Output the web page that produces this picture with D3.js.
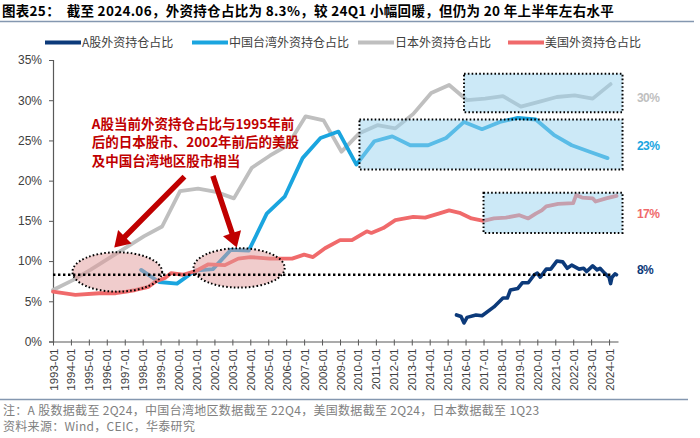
<!DOCTYPE html>
<html><head><meta charset="utf-8">
<script src="https://cdn.jsdelivr.net/npm/d3@7"></script>
<style>body{margin:0;background:#fff} svg{display:block} text{white-space:pre}</style>
</head><body><svg id="c" width="700" height="438"></svg>
<script>
// ---------- data ----------
const seriesNames = ["A股外资持仓占比","中国台湾外资持仓占比","日本外资持仓占比","美国外资持仓占比"];
const tickYears = d3.range(1993, 2025);
const yTicks = [0,5,10,15,20,25,30,35];

const cnDates = ["2015-07","2015-10","2015-12","2016-02","2016-08","2016-12","2017-08","2018-02","2018-05","2018-07","2018-12","2019-03","2019-07","2019-11","2020-01","2020-03","2020-07","2020-10","2021-02","2021-06","2021-09","2021-12","2022-05","2022-08","2022-10","2023-02","2023-05","2023-07","2023-10","2024-01","2024-02","2024-03","2024-05","2024-06"];
const cnValues = [3.3,3.1,2.3,3.0,3.3,3.2,4.3,5.4,5.4,6.4,6.6,7.3,7.3,8.3,8.5,8.0,9.0,9.0,10.0,9.9,9.1,9.5,9.0,9.1,8.7,9.4,8.9,9.1,8.5,8.0,7.2,8.0,8.4,8.3];

const twDates = ["1997-12","1998-12","1999-12","2000-12","2001-12","2002-12","2003-12","2004-12","2005-12","2006-12","2007-12","2008-12","2009-12","2010-12","2011-12","2012-12","2013-12","2014-12","2015-12","2016-12","2017-12","2018-12","2019-12","2020-12","2021-12","2022-12","2023-12"];
const twValues = [8.9,7.4,7.2,8.8,9.0,11.4,11.3,15.9,18.0,22.8,25.3,26.1,22.0,24.9,25.5,24.4,24.4,25.3,27.3,26.4,27.3,27.8,27.6,25.7,24.4,23.6,22.8];

const jpDates = ["1993-01","1994-02","1995-02","1996-02","1997-02","1998-02","1999-02","2000-02","2001-02","2002-02","2003-02","2004-02","2005-02","2006-02","2007-02","2008-02","2009-02","2010-02","2011-02","2012-02","2013-02","2014-02","2015-02","2016-02","2017-02","2018-02","2019-02","2020-02","2021-02","2022-02","2023-02","2024-02"];
const jpValues = [6.4,7.6,8.9,10.3,11.7,13.1,14.3,18.7,19.0,18.6,17.8,21.6,23.1,24.4,28.0,27.5,23.6,25.9,26.9,26.5,28.3,30.9,31.9,30.0,30.2,30.5,29.2,29.8,30.4,30.6,30.2,32.0];

const usDates = ["1993-01","1994-04","1995-08","1996-07","1997-02","1997-08","1998-05","1998-10","1999-04","1999-08","2000-04","2001-01","2001-09","2002-08","2003-05","2004-01","2005-02","2006-05","2007-01","2007-07","2008-03","2009-01","2009-09","2010-07","2010-10","2011-06","2012-02","2013-02","2013-10","2014-07","2015-02","2015-09","2016-05","2017-01","2017-08","2018-04","2019-01","2019-07","2019-12","2020-04","2020-07","2021-03","2022-01","2022-03","2022-07","2023-02","2023-04","2023-11","2024-06"];
const usValues = [6.2,5.8,6.0,6.0,6.2,6.4,6.8,7.5,7.9,8.5,8.3,8.8,9.6,9.5,10.3,10.5,10.3,10.3,10.8,10.5,11.6,12.6,12.6,13.7,13.5,14.1,15.1,15.5,15.4,15.9,16.3,16.0,15.3,15.0,15.3,15.4,15.7,15.3,15.9,16.3,16.8,17.1,17.2,18.2,17.9,17.8,17.4,17.8,18.1];

const refLevel = 8.3;
const endLabels = ["8%","23%","30%","17%"];
const endLabelValues = [8.9,24.4,30.3,15.9];

const noteText = ["A股当前外资持仓占比与1995年前","后的日本股市、2002年前后的美股","及中国台湾地区股市相当"];

// ---------- setup ----------
const colors = ["#0C3A7A","#1AA5DF","#BFBFBF","#F06A6B"];
const parse = d3.timeParse("%Y-%m");
const svg = d3.select("#c");
const FONT = "'Liberation Sans','Noto Sans CJK SC',sans-serif";
const CJK = "'Noto Sans CJK SC','Liberation Sans',sans-serif";

const x = d3.scaleTime().domain([parse("1993-01"), parse("2024-07")]).range([53, 618]);
const y = d3.scaleLinear().domain([0, 35]).range([341.5, 60]);

// title
svg.append("text").attr("x",2).attr("y",16).attr("font-family",CJK).attr("font-weight","bold")
  .attr("font-size","13.5px").attr("letter-spacing","0.3px").attr("fill","#000")
  .text("图表25：  截至 2024.06，外资持仓占比为 8.3%，较 24Q1 小幅回暖，但仍为 20 年上半年左右水平");
svg.append("line").attr("x1",0).attr("x2",694).attr("y1",21.5).attr("y2",21.5).attr("stroke","#8497B0").attr("stroke-width",1.5);

// legend
const legX = [45,192,358,508];
seriesNames.forEach((n,i)=>{
  const g = svg.append("g").attr("transform",`translate(${legX[i]},42.5)`);
  g.append("line").attr("x1",0).attr("x2",36).attr("stroke",colors[i]).attr("stroke-width",4);
  g.append("text").attr("x",37).attr("y",4.5).attr("font-family",CJK).attr("font-size","12px")
    .attr("fill","#404040").text(n);
});

// axes
const ya = svg.append("g").attr("transform","translate(53,0)")
  .call(d3.axisLeft(y).tickValues(yTicks).tickSize(4).tickPadding(7).tickFormat(d=>d+"%"));
ya.select(".domain").attr("stroke","#595959").attr("stroke-width",1.2);
ya.selectAll(".tick line").attr("stroke","#595959");
ya.selectAll("text").attr("font-family",FONT).attr("font-size","12px").attr("fill","#404040");

const xa = svg.append("g").attr("transform","translate(0,341.5)")
  .call(d3.axisBottom(x).tickValues(tickYears.map(t=>new Date(t,0,1))).tickSize(4).tickSizeOuter(0)
  .tickFormat(d3.timeFormat("%Y-%m")));
xa.select(".domain").attr("stroke","#595959").attr("stroke-width",1.2);
xa.selectAll(".tick line").attr("stroke","#595959").attr("y1",-2);
xa.selectAll("text").attr("font-family",FONT).attr("font-size","11.5px").attr("fill","#404040")
  .attr("transform","rotate(-90)").attr("text-anchor","end").attr("x",-7).attr("y",0).attr("dy","0.35em");

// lines
const line = d3.line().x(d=>x(d[0])).y(d=>y(d[1])).curve(d3.curveLinear);
const sets = [
  [cnDates,cnValues],[twDates,twValues],[jpDates,jpValues],[usDates,usValues]
];
// draw order: Japan, Taiwan, US, A-share
[2,1,3,0].forEach(i=>{
  const [ds,vs]=sets[i];
  svg.append("path").datum(ds.map((d,k)=>[parse(d),vs[k]]))
    .attr("d",line).attr("fill","none").attr("stroke",colors[i])
    .attr("stroke-width",i===0?3.6:3.8).attr("stroke-linejoin","round").attr("stroke-linecap","round");
});

// highlight boxes
const boxes = [
  {x0:"2015-12",x1:"2024-10",y0:28.5,y1:33.3},
  {x0:"2010-02",x1:"2024-10",y0:21.4,y1:27.6},
  {x0:"2017-01",x1:"2024-10",y0:13.5,y1:18.5}
];
boxes.forEach(b=>{
  svg.append("rect").attr("x",x(parse(b.x0))).attr("y",y(b.y1))
    .attr("width",x(parse(b.x1))-x(parse(b.x0))).attr("height",y(b.y0)-y(b.y1))
    .attr("fill","#9AD4F0").attr("fill-opacity",0.5)
    .attr("stroke","#000").attr("stroke-width",2).attr("stroke-dasharray","1.6,2.2");
});

// ellipses
const ellipses = [
  {x0:"1994-02",x1:"1999-02",y0:6.2,y1:11.1},
  {x0:"2000-11",x1:"2005-12",y0:6.7,y1:11.6}
];
ellipses.forEach(e=>{
  const a=x(parse(e.x0)), b=x(parse(e.x1));
  svg.append("ellipse").attr("cx",(a+b)/2).attr("cy",(y(e.y0)+y(e.y1))/2)
    .attr("rx",(b-a)/2).attr("ry",(y(e.y0)-y(e.y1))/2)
    .attr("fill","#E29A9A").attr("fill-opacity",0.5)
    .attr("stroke","#000").attr("stroke-width",2).attr("stroke-dasharray","1.6,2.2");
});

// reference line
svg.append("line").attr("x1",x(parse("1993-01"))).attr("x2",x(parse("2024-03")))
  .attr("y1",y(refLevel)).attr("y2",y(refLevel))
  .attr("stroke","#000").attr("stroke-width",2.6).attr("stroke-dasharray","2.4,2.6");

// arrows
const arrows = [
  {from:["2000-05",20.5], to:["1996-06",11.7]},
  {from:["2001-12",20.6], to:["2003-04",11.7]}
];
arrows.forEach(a=>{
  const sx=x(parse(a.from[0])), sy=y(a.from[1]), tx=x(parse(a.to[0])), ty=y(a.to[1]);
  const len=Math.hypot(tx-sx,ty-sy), ux=(tx-sx)/len, uy=(ty-sy)/len, nx=-uy, ny=ux;
  const w=5.5, H=19, L=15, bx=tx-ux*L, by=ty-uy*L;
  const pts=[[sx+nx*w/2,sy+ny*w/2],[bx+nx*w/2,by+ny*w/2],[bx+nx*H/2,by+ny*H/2],[tx,ty],
             [bx-nx*H/2,by-ny*H/2],[bx-nx*w/2,by-ny*w/2],[sx-nx*w/2,sy-ny*w/2]];
  svg.append("polygon").attr("points",pts.map(p=>p.join(",")).join(" ")).attr("fill","#C00000");
});

// annotation text
noteText.forEach((t,i)=>{
  svg.append("text").attr("x",x(parse("1995-03"))).attr("y",129+i*18.3)
    .attr("font-family",CJK).attr("font-weight","bold").attr("font-size","13.5px")
    .attr("fill","#C00000").text(t);
});

// end labels
endLabels.forEach((t,i)=>{
  svg.append("text").attr("x",x(parse("2024-07"))+19).attr("y",y(endLabelValues[i])).attr("dy","0.36em")
    .attr("font-family",FONT).attr("font-weight","bold").attr("font-size","12px")
    .attr("letter-spacing","-0.6px").attr("fill",colors[i]).text(t);
});

// footer
svg.append("line").attr("x1",0).attr("x2",688).attr("y1",399.5).attr("y2",399.5).attr("stroke","#8497B0").attr("stroke-width",1.5);
svg.append("text").attr("x",3).attr("y",414.5).attr("font-family",CJK).attr("font-size","12px").attr("letter-spacing","0.3px").attr("fill","#808080")
  .text("注：A 股数据截至 2Q24，中国台湾地区数据截至 22Q4，美国数据截至 2Q24，日本数据截至 1Q23");
svg.append("text").attr("x",3).attr("y",431).attr("font-family",CJK).attr("font-size","12px").attr("letter-spacing","0.3px").attr("fill","#808080")
  .text("资料来源：Wind，CEIC，华泰研究");
</script></body></html>
